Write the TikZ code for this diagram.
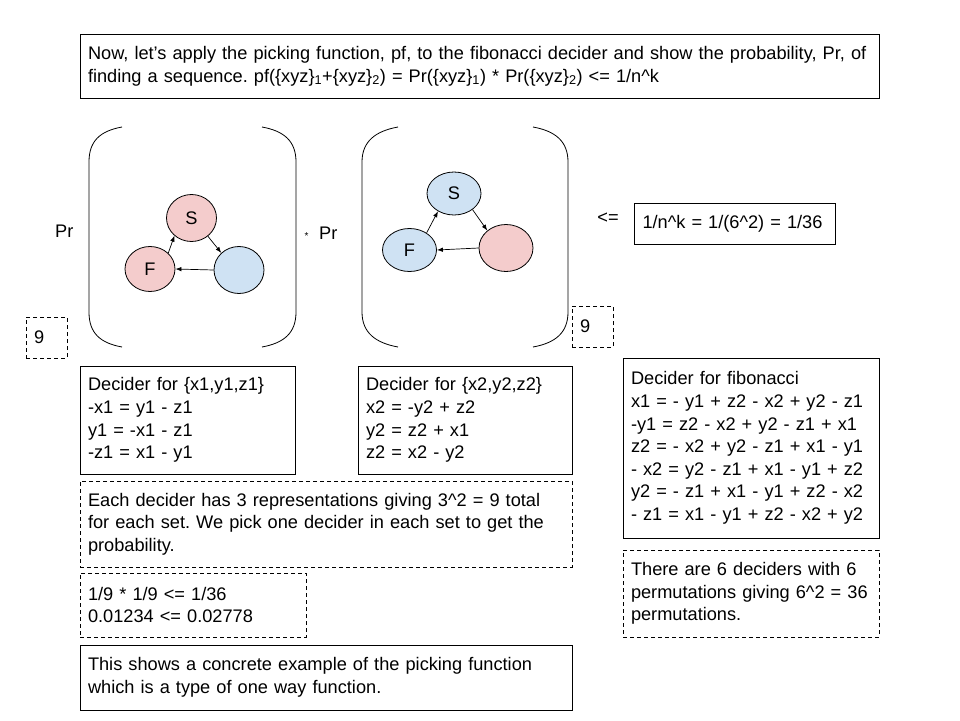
\documentclass[tikz,border=0pt]{standalone}
\usepackage{fontspec}
\setmainfont{Liberation Sans}
\usepackage{xcolor}
\usepackage{tikz}
\usetikzlibrary{shapes.geometric, arrows.meta}

\definecolor{pinkfill}{HTML}{F4CCCC}
\definecolor{bluefill}{HTML}{CFE2F3}

\begin{document}
\frenchspacing
\begin{tikzpicture}[x=1pt, y=-1pt,
  every node/.style={font=\fontsize{18.2}{22.6}\selectfont},
  box/.style={draw, line width=0.8pt, align=left, inner xsep=8pt, inner ysep=0pt},
  dbox/.style={box, dash pattern=on 4pt off 3pt},
  vert/.style={ellipse, draw, line width=0.8pt, minimum width=50pt, minimum height=47pt, inner sep=0pt},
  redv/.style={vert, fill=pinkfill},
  bluev/.style={vert, fill=bluefill},
  edge/.style={-{Latex[length=6pt, width=4.5pt]}, line width=0.7pt},
  paren/.style={line width=0.8pt}]

  % Page frame
  \fill[white] (0,0) rectangle (960,720);
  \useasboundingbox (0,0) rectangle (960,720);

  % Statement at the top
  \node[box, text width=783pt, minimum height=64pt] (intro) at (479.5,66)
    {\mbox{Now, let’s apply the picking function, pf, to the fibonacci decider and show the probability, Pr, of}\\
     \mbox{finding a sequence. pf(\{xyz\}\textsubscript{1}+\{xyz\}\textsubscript{2}) = Pr(\{xyz\}\textsubscript{1}) * Pr(\{xyz\}\textsubscript{2}) <= 1/n\textasciicircum k}};

  % First set: brackets round the graph
  \draw[paren] (122,127) .. controls (100,131) and (89,141) .. (89,162) -- (89,312)
        .. controls (89,333) and (100,343) .. (122,347);
  \draw[paren] (262,127) .. controls (284,131) and (296,141) .. (296,162) -- (296,312)
        .. controls (296,333) and (284,343) .. (262,347);

  \node[redv] (s1) at (191.5,218) {S};
  \node[redv, minimum height=45pt] (f1) at (150,269) {F};
  \node[bluev] (b1) at (239,270) {};

  \draw[edge] (f1.41) -- (s1.226);
  \draw[edge] (s1.-48) -- (b1.136);
  \draw[edge] (b1.west) -- (f1.east);

  % Second set: brackets round the graph
  \draw[paren] (398,127) .. controls (376,131) and (362,141) .. (362,162) -- (362,312)
        .. controls (362,333) and (376,343) .. (398,347);
  \draw[paren] (533,127) .. controls (555,131) and (568,141) .. (568,162) -- (568,312)
        .. controls (568,333) and (555,343) .. (533,347);

  \node[bluev, minimum width=54pt, minimum height=43pt] (s2) at (454,193.5) {S};
  \node[bluev, minimum width=54pt, minimum height=43pt] (f2) at (409.5,250) {F};
  \node[redv, minimum width=54pt] (r2) at (506,248) {};

  \draw[edge] (f2.45) -- (s2.228);
  \draw[edge] (s2.-41) -- (r2.137);
  \draw[edge] (r2.west) -- (f2.east);

  % Pr labels and operators
  \node[anchor=base west, inner sep=0pt] (pr1) at (55,237.5) {Pr};
  \node[anchor=base west, inner sep=0pt, font=\fontsize{10}{12}\selectfont] (times) at (304.5,239) {*};
  \node[anchor=base west, inner sep=0pt] (pr2) at (319,239) {Pr};
  \node[inner sep=0pt] (leq) at (608,218) {<=};
  \node[box, text width=185pt, minimum height=41pt] (bound) at (735,224) {1/n\textasciicircum k = 1/(6\textasciicircum 2) = 1/36};

  % Counts of representations
  \node[dbox, text width=25pt, minimum height=41pt] (nine1) at (46.5,337.5) {9};
  \node[dbox, text width=25pt, minimum height=41pt] (nine2) at (592.5,326.5) {9};

  % Deciders
  \node[box, text width=199pt, minimum height=108pt] (dec1) at (187.5,420)
    {Decider for \{x1,y1,z1\}\\ -x1 = y1 - z1\\ y1 = -x1 - z1\\ -z1 = x1 - y1};
  \node[box, text width=198pt, minimum height=108pt] (dec2) at (465,420)
    {Decider for \{x2,y2,z2\}\\ x2 = -y2 + z2\\ y2 = z2 + x1\\ z2 = x2 - y2};
  \node[box, text width=240pt, minimum height=180pt] (decfib) at (751,448)
    {Decider for fibonacci\\ x1 = - y1 + z2 - x2 + y2 - z1\\ -y1 = z2 - x2 + y2 - z1 + x1\\
     z2 = - x2 + y2 - z1 + x1 - y1\\ - x2 = y2 - z1 + x1 - y1 + z2\\
     y2 = - z1 + x1 - y1 + z2 - x2\\ - z1 = x1 - y1 + z2 - x2 + y2};

  % Notes
  \node[dbox, text width=476pt, minimum height=86pt] (each) at (326,524)
    {Each decider has 3 representations giving 3\textasciicircum 2 = 9 total\\
     for each set. We pick one decider in each set to get the\\ probability.};
  \node[dbox, text width=210pt, minimum height=64pt] (calc) at (193,605)
    {1/9 * 1/9 <= 1/36\\ 0.01234 <= 0.02778};
  \node[dbox, text width=240pt, minimum height=87pt] (perm) at (751,593.5)
    {There are 6 deciders with 6\\ permutations giving 6\textasciicircum 2 = 36\\ permutations.};
  \node[box, text width=476pt, minimum height=65pt] (concl) at (326,677.5)
    {This shows a concrete example of the picking function\\ which is a type of one way function.};

\end{tikzpicture}
\end{document}
